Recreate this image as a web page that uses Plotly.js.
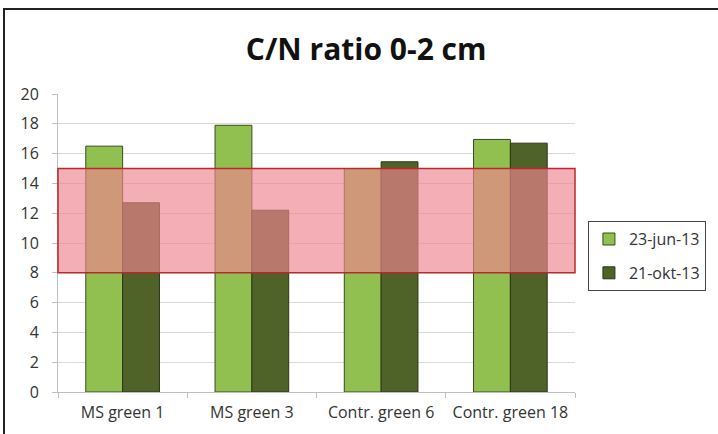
<!DOCTYPE html>
<html><head><meta charset="utf-8">
<script src="https://cdn.plot.ly/plotly-3.0.1.min.js"></script>
<style>
html,body{margin:0;padding:0;background:#fff;overflow:hidden;}
#wrap{position:relative;width:718px;height:434px;overflow:hidden;}
#chart{width:718px;height:434px;}
#hline{position:absolute;left:3px;top:8px;width:715px;height:2px;background:#222;}
#vline{position:absolute;left:3px;top:8px;width:2px;height:426px;background:#222;}
</style></head>
<body><div id="wrap"><div id="chart"></div><div id="hline"></div><div id="vline"></div></div>
<script>
const categories = ["MS green 1", "MS green 3", "Contr. green 6", "Contr. green 18"];
const seriesNames = ["23-jun-13", "21-okt-13"];
const june = [16.5, 17.9, 15.0, 16.95];
const october = [12.7, 12.2, 15.45, 16.7];
const bandLow = 8;
const bandHigh = 15;
const yTicks = [0, 2, 4, 6, 8, 10, 12, 14, 16, 18, 20];

const fontFam = "Open Sans, Noto Sans, sans-serif";
const txt = "#333333";
const traces = [
  {type:"bar", name:seriesNames[0], x:categories, y:june, legendgroup:"a",
   marker:{color:"#92C050", line:{color:"#3a4a1e", width:1}}},
  {type:"bar", name:seriesNames[1], x:categories, y:october, legendgroup:"b",
   marker:{color:"#4F6228", line:{color:"#2b3614", width:1}}}
];
const layout = {
  width:718, height:434,
  margin:{l:58, r:140, t:94, b:42},
  paper_bgcolor:"#fff", plot_bgcolor:"#fff",
  title:{text:"<b>C/N ratio 0-2 cm</b>", x:0.51, xref:"container", xanchor:"center",
         y:0.885, yanchor:"middle",
         font:{family:fontFam, size:30, color:"#111"}},
  bargap:0.43, bargroupgap:0,
  showlegend:true,
  legend:{x:1.025, xanchor:"left", y:0.456, yanchor:"middle",
          bordercolor:"#444", borderwidth:1, bgcolor:"#fff",
          font:{family:fontFam, size:16, color:txt},
          itemwidth:30, traceorder:"grouped", tracegroupgap:10},
  xaxis:{type:"category", showline:true, linecolor:"#bfbfbf", linewidth:1,
         ticks:"outside", tickson:"boundaries", ticklen:5, tickcolor:"#bfbfbf",
         ticklabelstandoff:6,
         tickfont:{family:fontFam, size:16, color:txt}, showgrid:false, fixedrange:true},
  yaxis:{range:[0,20], tickvals:yTicks, showline:true, linecolor:"#bfbfbf", linewidth:1,
         ticks:"outside", ticklen:5, tickcolor:"#bfbfbf", ticklabelstandoff:10,
         gridcolor:"#d9d9d9", gridwidth:1, zeroline:false,
         tickfont:{family:fontFam, size:16, color:txt}, fixedrange:true},
  shapes:[{type:"rect", xref:"paper", yref:"y", x0:0, x1:1, y0:bandLow, y1:bandHigh,
           fillcolor:"rgba(238,132,143,0.66)", line:{color:"#b8282d", width:1.5}, layer:"above"}]
};
Plotly.newPlot("chart", traces, layout, {staticPlot:true, displayModeBar:false});
</script></body></html>
